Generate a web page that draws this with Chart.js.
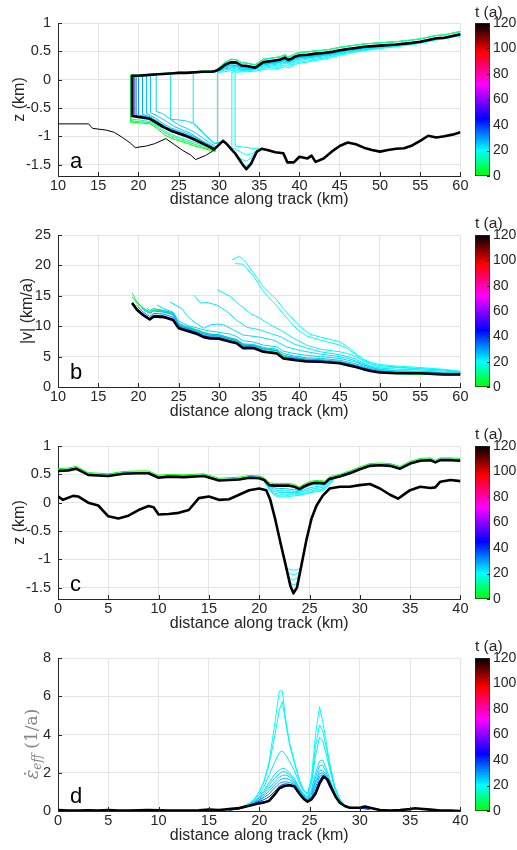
<!DOCTYPE html>
<html><head><meta charset="utf-8">
<script src="https://cdn.jsdelivr.net/npm/chart.js@4/dist/chart.umd.min.js"></script>
<style>
html,body{margin:0;padding:0;background:#fff;}
body{width:517px;height:850px;position:relative;overflow:hidden;}
canvas{position:absolute;}
</style></head><body>
<canvas id="pa" width="470" height="212" style="left:0;top:0"></canvas>
<canvas id="pb" width="470" height="212" style="left:0;top:212px"></canvas>
<canvas id="pc" width="470" height="212" style="left:0;top:424px"></canvas>
<canvas id="pd" width="470" height="214" style="left:0;top:636px"></canvas>
<canvas id="ca" width="57" height="212" style="left:460px;top:0"></canvas>
<canvas id="cb" width="57" height="212" style="left:460px;top:212px"></canvas>
<canvas id="cc" width="57" height="212" style="left:460px;top:424px"></canvas>
<canvas id="cd" width="57" height="214" style="left:460px;top:636px"></canvas>
<script>
// ---------------- tick labels ----------------
const T_TICKS = [0, 20, 40, 60, 80, 100, 120];
const AB_XTICKS = [10, 15, 20, 25, 30, 35, 40, 45, 50, 55, 60];
const CD_XTICKS = [0, 5, 10, 15, 20, 25, 30, 35, 40];
const Z_YTICKS = [-1.5, -1, -0.5, 0, 0.5, 1];
const V_YTICKS = [0, 5, 10, 15, 20, 25];
const E_YTICKS = [0, 2, 4, 6, 8];

// ---------------- panel a ----------------
const aBedX = [10, 13.8, 14.3, 16, 17, 18, 19, 19.6, 21, 22, 23.4, 24.5, 25.5, 26.5, 27.1, 28.3, 29, 29.5, 30.5];
const aBedY = [-0.78, -0.78, -0.86, -0.89, -0.93, -1.02, -1.12, -1.2, -1.17, -1.13, -1.04, -1.15, -1.25, -1.33, -1.41, -1.34, -1.28, -1.23, -1.08];
const aSX = [19, 20, 21, 22, 23, 24, 25, 26, 27, 28, 29, 29.5, 30, 30.7, 31.5, 32.2, 32.8, 33.5, 34.5, 35, 35.5, 36.5, 37.5, 38.2, 38.6, 39, 39.5, 40, 41, 42, 43, 44, 45, 46, 47, 48, 50, 52, 54, 55, 56, 57, 58, 59, 60];
const aS120 = [0.07, 0.08, 0.09, 0.10, 0.11, 0.12, 0.12, 0.13, 0.14, 0.14, 0.15, 0.18, 0.26, 0.31, 0.30, 0.25, 0.24, 0.21, 0.26, 0.31, 0.33, 0.35, 0.39, 0.35, 0.37, 0.41, 0.43, 0.44, 0.46, 0.47, 0.49, 0.52, 0.54, 0.56, 0.58, 0.60, 0.62, 0.65, 0.67, 0.70, 0.73, 0.74, 0.77, 0.80];
const aS0 = [0.08, 0.09, 0.10, 0.11, 0.12, 0.13, 0.13, 0.14, 0.15, 0.15, 0.16, 0.21, 0.30, 0.36, 0.35, 0.30, 0.29, 0.26, 0.31, 0.36, 0.38, 0.40, 0.44, 0.40, 0.42, 0.46, 0.48, 0.49, 0.51, 0.52, 0.54, 0.57, 0.59, 0.61, 0.63, 0.65, 0.67, 0.70, 0.72, 0.75, 0.78, 0.79, 0.82, 0.85];
const aS19 = [0.13, 0.14, 0.14, 0.15, 0.16, 0.18, 0.19, 0.20, 0.23, 0.21, 0.23, 0.27, 0.29, 0.31, 0.34, 0.36, 0.39, 0.43, 0.46, 0.49, 0.51, 0.55, 0.58, 0.62, 0.64, 0.67, 0.70, 0.72, 0.75, 0.77];
const aS20 = [0.15, 0.16, 0.16, 0.17, 0.18, 0.20, 0.22, 0.23, 0.26, 0.24, 0.26, 0.29, 0.31, 0.33, 0.36, 0.38, 0.41, 0.45, 0.47, 0.50, 0.52, 0.56, 0.59, 0.63, 0.65, 0.68, 0.71, 0.72, 0.75, 0.78];
const aS21 = [0.13, 0.14, 0.16, 0.17, 0.17, 0.17, 0.18, 0.20, 0.22, 0.24, 0.26, 0.29, 0.27, 0.28, 0.32, 0.34, 0.36, 0.38, 0.40, 0.43, 0.46, 0.49, 0.51, 0.53, 0.57, 0.60, 0.63, 0.65, 0.68, 0.71, 0.73, 0.76, 0.78];
const aS22 = [0.12, 0.13, 0.13, 0.14, 0.15, 0.17, 0.19, 0.19, 0.18, 0.18, 0.19, 0.22, 0.24, 0.26, 0.28, 0.31, 0.29, 0.30, 0.34, 0.36, 0.38, 0.40, 0.42, 0.44, 0.47, 0.50, 0.52, 0.54, 0.58, 0.60, 0.64, 0.66, 0.69, 0.71, 0.73, 0.76, 0.79];
const aS23 = [0.11, 0.12, 0.12, 0.13, 0.13, 0.14, 0.16, 0.19, 0.21, 0.21, 0.19, 0.19, 0.19, 0.23, 0.26, 0.28, 0.30, 0.33, 0.30, 0.32, 0.36, 0.38, 0.39, 0.41, 0.43, 0.45, 0.48, 0.51, 0.53, 0.55, 0.58, 0.61, 0.64, 0.66, 0.69, 0.72, 0.73, 0.76, 0.79];
const aS24 = [0.10, 0.11, 0.11, 0.12, 0.12, 0.13, 0.13, 0.14, 0.16, 0.20, 0.23, 0.23, 0.21, 0.20, 0.19, 0.23, 0.27, 0.29, 0.31, 0.34, 0.31, 0.33, 0.37, 0.39, 0.40, 0.42, 0.44, 0.46, 0.49, 0.52, 0.54, 0.56, 0.59, 0.61, 0.64, 0.66, 0.69, 0.72, 0.73, 0.76, 0.79];
const aS26 = [0.09, 0.10, 0.11, 0.11, 0.12, 0.12, 0.13, 0.14, 0.14, 0.17, 0.22, 0.26, 0.25, 0.22, 0.21, 0.20, 0.24, 0.28, 0.30, 0.32, 0.36, 0.32, 0.34, 0.38, 0.40, 0.41, 0.43, 0.45, 0.47, 0.50, 0.52, 0.54, 0.56, 0.59, 0.62, 0.64, 0.66, 0.69, 0.72, 0.73, 0.76, 0.79];
const aS30 = [0.08, 0.09, 0.10, 0.11, 0.12, 0.12, 0.13, 0.14, 0.14, 0.15, 0.17, 0.24, 0.29, 0.28, 0.24, 0.23, 0.20, 0.25, 0.30, 0.32, 0.34, 0.38, 0.34, 0.36, 0.40, 0.42, 0.43, 0.45, 0.46, 0.48, 0.51, 0.53, 0.55, 0.57, 0.60, 0.62, 0.65, 0.67, 0.70, 0.73, 0.74, 0.77, 0.80];
const aB0x = [20, 21.5, 22.3, 23.2, 24, 25, 26, 27, 28, 29, 29.6];
const aB0y = [-0.76, -0.78, -0.86, -0.97, -1.03, -1.08, -1.12, -1.17, -1.21, -1.25, -1.27];
const aB8y = [-0.74, -0.76, -0.83, -0.93, -0.99, -1.05, -1.09, -1.14, -1.19, -1.23, -1.25];
const aB14y = [-0.71, -0.74, -0.8, -0.9, -0.96, -1.02, -1.06, -1.11, -1.16, -1.21, -1.24];
const aB19x = [33, 34, 35];
const aB19y = [-1.19, -1.21, -1.22];
const aB20x = [32.5, 33.4, 34.2, 34.8];
const aB20y = [-1.26, -1.33, -1.3, -1.25];
const aB21x = [30.5, 31.2, 32, 32.7, 33.4, 34, 34.6];
const aB21y = [-1.09, -1.16, -1.3, -1.4, -1.44, -1.38, -1.27];
const aB22x = [27.5, 28.5, 29.5, 30.5, 31.2, 32, 32.9, 33.4, 34, 34.6];
const aB22y = [-0.85, -1.0, -1.12, -1.09, -1.16, -1.31, -1.5, -1.53, -1.45, -1.27];
const aB23x = [25, 26, 26.8, 27.5, 28.5, 29.4, 30.2];
const aB23y = [-0.71, -0.73, -0.77, -0.87, -1.01, -1.13, -1.12];
const aB24x = [23, 24, 25, 26, 27, 28, 29, 29.7];
const aB24y = [-0.6, -0.7, -0.8, -0.86, -0.93, -1.03, -1.13, -1.19];
const aB25x = [22.5, 23.5, 24.5, 25.5, 26.5, 27.5, 28.5, 29.5];
const aB25y = [-0.65, -0.74, -0.83, -0.89, -0.95, -1.04, -1.13, -1.2];
const aB26x = [22, 23, 24, 25, 26, 27, 28, 29, 29.5];
const aB26y = [-0.67, -0.77, -0.85, -0.9, -0.95, -1.01, -1.09, -1.16, -1.21];
const aB28x = [21.5, 22.5, 23.5, 24.5, 25.5, 26.5, 27.5, 28.5, 29.4];
const aB28y = [-0.66, -0.75, -0.84, -0.9, -0.95, -1.0, -1.07, -1.15, -1.21];
const aB30x = [21.4, 22, 23, 24, 25, 26, 27, 28, 29, 29.4];
const aB30y = [-0.67, -0.72, -0.81, -0.88, -0.93, -0.98, -1.04, -1.11, -1.18, -1.22];
const aB35y = [-0.68, -0.73, -0.82, -0.89, -0.94, -0.99, -1.05, -1.12, -1.19, -1.22];
const aBlateX = [20, 21.4, 22, 23, 24, 25, 26, 27, 28, 29, 29.4];
const aBlateY = [-0.655, -0.69, -0.74, -0.83, -0.9, -0.95, -1.0, -1.06, -1.13, -1.2, -1.23];
const aB120x = [20, 21.4, 22, 23, 24, 25, 26, 27, 28, 29, 29.4, 30.5, 31, 32, 33, 33.4, 34, 34.7, 35.3, 36, 37, 38, 38.5, 39.3, 40, 41, 41.5, 42, 43, 44, 45, 46, 47, 48, 49, 50, 51, 52, 53, 54, 55, 56, 57, 58, 59, 60];
const aB120y = [-0.66, -0.69, -0.74, -0.83, -0.9, -0.95, -1.0, -1.06, -1.13, -1.2, -1.23, -1.08, -1.14, -1.3, -1.51, -1.58, -1.48, -1.27, -1.22, -1.24, -1.28, -1.3, -1.46, -1.46, -1.36, -1.39, -1.34, -1.45, -1.39, -1.27, -1.17, -1.11, -1.14, -1.2, -1.24, -1.27, -1.24, -1.22, -1.21, -1.16, -1.08, -0.99, -1.02, -1.0, -0.97, -0.93];
const aT     = [0, 8, 14, 19, 20, 21, 22, 23, 24, 25, 26, 28, 30, 35, 45, 65, 95, 120];
const aFront = [19.0, 19.0, 19.1, 32.0, 31.6, 29.8, 26.8, 24.0, 22.2, 21.5, 21.0, 20.5, 20.0, 19.7, 19.45, 19.3, 19.22, 19.2];
const aTop   = [0.08, 0.08, 0.08, 0.12, 0.13, 0.13, 0.12, 0.11, 0.09, 0.085, 0.08, 0.075, 0.07, 0.07, 0.07, 0.07, 0.07, 0.07];
const aBot   = [-0.75, -0.72, -0.7, -1.17, -1.2, -1.12, -0.76, -0.7, -0.56, -0.58, -0.6, -0.61, -0.62, -0.63, -0.64, -0.64, -0.64, -0.64];
const aBX = [aB0x, aB0x, aB0x, aB19x, aB20x, aB21x, aB22x, aB23x, aB24x, aB25x, aB26x, aB28x, aB30x, aB30x, aBlateX, aBlateX, aBlateX, aB120x];
const aBY = [aB0y, aB8y, aB14y, aB19y, aB20y, aB21y, aB22y, aB23y, aB24y, aB25y, aB26y, aB28y, aB30y, aB35y, aBlateY, aBlateY, aBlateY, aB120y];
const aSurf = [aS0, aS0, aS0, aS19, aS20, aS21, aS22, aS23, aS24, aS26, aS26, aS30, aS30, aS120, aS120, aS120, aS120, aS120];

// ---------------- panel b ----------------
const bGX = [19.2, 19.8, 20.6, 21.4, 21.9, 23.1, 24.3, 25, 25.6, 26.4, 27.3, 28.1, 28.9, 30, 31.4, 32.2, 33, 34.3, 35.5, 37.2, 38, 39.3, 40.9, 42.6, 45, 46, 47, 48, 49, 50, 52, 55, 58, 60];
const bV120 = [13.8, 12.7, 11.8, 11.1, 11.6, 11.5, 11.0, 9.65, 9.4, 9.1, 8.7, 8.2, 8.0, 7.95, 7.45, 7.2, 6.4, 6.4, 5.8, 5.5, 4.7, 4.45, 4.2, 4.15, 3.9, 3.6, 3.3, 2.9, 2.6, 2.4, 2.25, 2.25, 2.08, 2.08];
const bV45 = [13.9, 12.9, 12.0, 11.3, 11.8, 11.7, 11.2, 9.8, 9.55, 9.25, 8.85, 8.35, 8.1, 8.05, 7.55, 7.3, 6.5, 6.5, 5.9, 5.6, 4.8, 4.55, 4.3, 4.2, 3.95, 3.65, 3.35, 2.95, 2.65, 2.45, 2.3, 2.28, 2.1, 2.1];
const bV0 = [14.85, 13.8, 12.9, 12.4, 12.7, 12.5, 12.1, 10.3, 10.0, 9.8, 9.4, 9.0, 8.7, 8.6, 8.0, 7.8, 7.0, 6.9, 6.3, 6.0, 5.1, 4.8, 4.5, 4.4, 4.1, 3.8, 3.4, 3.0, 2.7, 2.4, 2.2, 2.1, 1.95, 1.9];
const bV8 = [15.5, 14.0, 13.0, 12.2, 12.6, 12.4, 12.0, 10.1, 9.8, 9.6, 9.2, 8.8, 8.5, 8.4, 7.9, 7.6, 6.9, 6.8, 6.2, 5.9, 5.0, 4.7, 4.4, 4.3, 4.0, 3.7, 3.4, 3.0, 2.7, 2.4, 2.2, 2.1, 2.0, 1.95];
const bV24 = [13.5, 12.9, 12.3, 10.9, 10.4, 10.0, 9.7, 9.4, 9.2, 9.0, 8.7, 8.3, 7.6, 7.4, 6.9, 6.6, 5.9, 5.5, 5.2, 5.0, 4.7, 4.4, 4.1, 3.6, 3.2, 2.9, 2.6, 2.5, 2.35, 2.3];
const bV26 = [13.0, 12.6, 12.9, 12.6, 12.2, 10.5, 10.1, 9.7, 9.3, 8.9, 8.7, 8.6, 8.1, 7.8, 7.1, 7.0, 6.5, 6.2, 5.5, 5.1, 4.8, 4.7, 4.4, 4.1, 3.8, 3.4, 3.0, 2.7, 2.5, 2.4, 2.25, 2.2];
const bV28 = [13.2, 12.7, 12.1, 12.5, 12.3, 11.9, 10.2, 9.9, 9.5, 9.1, 8.7, 8.5, 8.4, 7.9, 7.6, 6.9, 6.8, 6.3, 6.0, 5.2, 4.9, 4.6, 4.5, 4.2, 3.9, 3.6, 3.2, 2.9, 2.6, 2.4, 2.35, 2.2, 2.15];
const bV32 = [13.4, 12.3, 11.6, 12.1, 12.0, 11.5, 10.0, 9.7, 9.4, 9.0, 8.5, 8.3, 8.2, 7.7, 7.4, 6.7, 6.6, 6.0, 5.7, 4.9, 4.7, 4.4, 4.3, 4.05, 3.75, 3.45, 3.05, 2.75, 2.5, 2.35, 2.3, 2.15, 2.12];
const bBandT = [0, 8, 24, 26, 28, 32, 45, 75, 120];
const bBandFront = [19.2, 19.2, 22.3, 21.0, 20.4, 19.8, 19.3, 19.2, 19.2];
const bBandV = [bV0, bV8, bV24, bV26, bV28, bV32, bV45, bV120, bV120];
const bAx = [31.6, 32.2, 32.55, 33.3, 34.3, 35.5, 37.2, 38.0, 38.9, 40.1, 41.3, 42.6, 45, 46, 47, 48, 49, 50, 52, 55, 58, 60];
const bAy = [20.9, 21.3, 21.5, 20.6, 18.7, 16.5, 14.3, 12.9, 11.6, 9.9, 8.7, 8.2, 7.45, 6.6, 5.5, 4.55, 4.0, 3.7, 3.45, 3.2, 2.9, 2.6];
const bBx = [32.0, 33.0, 34.3, 35.5, 37.2, 38.4, 39.7, 40.9, 42.6, 45, 46, 47, 48, 49, 50, 52, 55, 58, 60];
const bBy = [20.3, 20.2, 18.2, 15.7, 13.3, 11.4, 9.5, 8.4, 7.7, 6.9, 6.3, 5.3, 4.4, 3.8, 3.5, 3.3, 3.0, 2.8, 2.5];
const bCx = [29.8, 31.4, 32.6, 33.9, 35.1, 36.4, 37.6, 39.3, 40.9, 42.6, 45, 46, 47, 48, 49, 50, 52, 55, 58, 60];
const bCy = [16.0, 14.9, 13.5, 12.1, 11.3, 10.2, 9.4, 8.0, 6.9, 6.2, 5.8, 5.5, 5.0, 4.2, 3.7, 3.3, 3.2, 3.0, 2.8, 2.5];
const bDx = [26.9, 27.7, 28.5, 29.7, 31.0, 32.2, 33.5, 35.1, 36.4, 37.6, 39.3, 40.9, 42.6, 45, 46, 47, 48, 49, 50, 52, 55, 58, 60];
const bDy = [15.1, 13.8, 13.9, 13.5, 12.4, 11.0, 9.8, 9.4, 8.8, 8.3, 7.1, 6.4, 5.8, 5.3, 5.0, 4.6, 3.9, 3.4, 3.1, 2.95, 2.8, 2.6, 2.4];
const bEx = [23.9, 24.55, 25.4, 26.0, 26.6, 27.5, 28.1, 28.9, 29.7, 30.6, 31.8, 33.0, 35.1, 36.8, 38.4, 40.1, 42.6, 45, 46, 47, 48, 49, 50, 52, 55, 58, 60];
const bEy = [14.0, 13.5, 12.9, 11.8, 11.0, 10.2, 9.65, 10.2, 10.35, 10.2, 9.4, 8.55, 8.2, 7.7, 6.6, 6.0, 5.4, 5.0, 4.7, 4.3, 3.7, 3.2, 2.9, 2.7, 2.6, 2.4, 2.3];
const bExpT = [19, 20, 21, 22, 23];
const bExpX = [bAx, bBx, bCx, bDx, bEx];
const bExpY = [bAy, bBy, bCy, bDy, bEy];

// ---------------- panel c ----------------
const cBedX = [0, 0.5, 1.5, 2, 3, 4, 5, 6, 7, 8, 9, 9.5, 10, 11, 12, 13, 14, 15, 16, 17, 18, 19, 20, 20.7, 21.1, 21.6, 22.1, 22.6, 23.1, 23.4, 23.75, 24.2, 24.7, 25.2, 25.7, 26.3, 27, 28, 29, 30, 31, 32, 33, 33.8, 34.5, 35, 36, 37, 37.5, 38, 39, 40];
const cBedY = [0.11, 0.05, 0.12, 0.11, 0.0, -0.05, -0.24, -0.28, -0.23, -0.13, -0.06, -0.08, -0.21, -0.2, -0.18, -0.13, 0.08, 0.11, 0.05, 0.06, 0.14, 0.22, 0.25, 0.22, 0.05, -0.3, -0.7, -1.08, -1.47, -1.6, -1.5, -1.1, -0.65, -0.28, -0.05, 0.12, 0.25, 0.28, 0.28, 0.31, 0.33, 0.25, 0.14, 0.07, 0.16, 0.22, 0.28, 0.26, 0.27, 0.37, 0.4, 0.38];
const cSX = [0, 1, 1.8, 3, 4, 5, 6.5, 8, 9, 10, 11, 12.5, 14.5, 16, 17, 18, 19, 20, 20.5, 21, 21.5, 22, 22.5, 23, 23.5, 24, 24.5, 25, 25.5, 26, 26.5, 27, 27.5, 28, 29, 30, 31, 32, 33, 34, 35, 36, 37, 37.5, 38, 39, 40];
const cS120 = [0.56, 0.57, 0.60, 0.49, 0.48, 0.47, 0.51, 0.52, 0.52, 0.44, 0.46, 0.45, 0.47, 0.39, 0.40, 0.41, 0.44, 0.43, 0.40, 0.31, 0.30, 0.30, 0.30, 0.30, 0.28, 0.24, 0.29, 0.33, 0.35, 0.35, 0.34, 0.42, 0.44, 0.46, 0.52, 0.59, 0.65, 0.66, 0.65, 0.60, 0.69, 0.74, 0.75, 0.71, 0.75, 0.75, 0.74];
const cS0 = [0.60, 0.61, 0.64, 0.53, 0.52, 0.51, 0.55, 0.56, 0.56, 0.48, 0.50, 0.49, 0.51, 0.43, 0.44, 0.45, 0.48, 0.47, 0.44, 0.35, 0.34, 0.34, 0.34, 0.34, 0.32, 0.28, 0.33, 0.37, 0.39, 0.39, 0.38, 0.46, 0.48, 0.50, 0.56, 0.63, 0.69, 0.70, 0.69, 0.64, 0.73, 0.78, 0.79, 0.75, 0.79, 0.79, 0.78];
const cS20 = [0.58, 0.59, 0.62, 0.51, 0.50, 0.49, 0.53, 0.54, 0.54, 0.46, 0.48, 0.47, 0.49, 0.41, 0.42, 0.43, 0.46, 0.45, 0.38, 0.24, 0.15, 0.12, 0.12, 0.13, 0.14, 0.14, 0.16, 0.18, 0.20, 0.21, 0.24, 0.33, 0.44, 0.48, 0.54, 0.61, 0.67, 0.68, 0.67, 0.62, 0.71, 0.76, 0.77, 0.73, 0.77, 0.77, 0.76];
const cDipX = [19, 20, 20.5, 21, 21.5, 22, 22.5, 23, 23.5, 24, 24.5, 25, 25.5, 26, 26.5, 27, 27.5, 28, 29];
const cDip19 = [0.46, 0.45, 0.38, 0.22, 0.13, 0.10, 0.10, 0.11, 0.12, 0.13, 0.15, 0.17, 0.19, 0.20, 0.23, 0.32, 0.43, 0.48, 0.54];
const cDip21 = [0.46, 0.45, 0.39, 0.25, 0.17, 0.15, 0.15, 0.15, 0.16, 0.16, 0.18, 0.20, 0.22, 0.23, 0.26, 0.35, 0.45, 0.48, 0.54];
const cDip22 = [0.46, 0.45, 0.40, 0.27, 0.20, 0.18, 0.18, 0.18, 0.18, 0.18, 0.21, 0.23, 0.25, 0.26, 0.28, 0.37, 0.46, 0.48, 0.54];
const cDip23 = [0.46, 0.45, 0.41, 0.29, 0.23, 0.21, 0.21, 0.21, 0.20, 0.20, 0.23, 0.26, 0.28, 0.29, 0.30, 0.39, 0.46, 0.48, 0.54];
const cDip26 = [0.46, 0.45, 0.41, 0.30, 0.26, 0.25, 0.25, 0.24, 0.23, 0.21, 0.26, 0.30, 0.32, 0.32, 0.32, 0.41, 0.46, 0.48, 0.54];
const cDipT = [19, 21, 22, 23, 26];
const cDipV = [cDip19, cDip21, cDip22, cDip23, cDip26];
const cU19x = [22.1, 22.7, 23.0, 23.4, 23.8, 24.15, 24.7];
const cU19y = [-0.7, -1.15, -1.18, -1.19, -1.18, -1.15, -0.65];
const cU20x = [22.1, 22.78, 23.0, 23.4, 23.8, 24.1, 24.7];
const cU20y = [-0.7, -1.22, -1.25, -1.27, -1.25, -1.2, -0.65];
const cU21x = [22.1, 22.88, 23.1, 23.4, 23.75, 24.05, 24.7];
const cU21y = [-0.7, -1.3, -1.34, -1.36, -1.33, -1.26, -0.65];
const cU22x = [22.1, 23.0, 23.2, 23.4, 23.7, 23.95, 24.7];
const cU22y = [-0.7, -1.39, -1.43, -1.45, -1.43, -1.35, -0.65];
const cU23x = [22.1, 23.1, 23.25, 23.4, 23.6, 23.8, 24.7];
const cU23y = [-0.7, -1.47, -1.52, -1.55, -1.53, -1.46, -0.65];
const cUT = [19, 20, 21, 22, 23];
const cUX = [cU19x, cU20x, cU21x, cU22x, cU23x];
const cUY = [cU19y, cU20y, cU21y, cU22y, cU23y];

// ---------------- panel d ----------------
const dBX = [0, 1, 2, 3, 4, 5, 6, 7, 8, 9, 10, 11, 12, 13, 14, 15, 16, 17, 18, 19, 20, 20.5, 21, 21.5, 22, 22.5, 23, 23.5, 24, 24.5, 24.8, 25.2, 25.6, 26, 26.4, 26.8, 27.2, 27.6, 28, 28.5, 29, 30, 30.5, 31, 32, 33, 34, 35, 35.5, 36, 37, 38, 39, 40];
const dBY = [0.05, 0.03, 0.02, 0.04, 0.03, 0.05, 0.03, 0.02, 0.04, 0.05, 0.04, 0.03, 0.02, 0.03, 0.04, 0.07, 0.05, 0.1, 0.15, 0.28, 0.4, 0.45, 0.54, 0.84, 1.19, 1.31, 1.35, 1.28, 0.9, 0.6, 0.49, 0.61, 0.92, 1.45, 1.8, 1.65, 1.19, 0.75, 0.44, 0.26, 0.17, 0.17, 0.23, 0.17, 0.05, 0.02, 0.05, 0.1, 0.14, 0.12, 0.07, 0.03, 0.02, 0.0];
const dGX = [17, 18, 19, 19.5, 20, 20.5, 21, 21.5, 22, 22.3, 22.6, 23, 23.5, 24, 24.4, 24.8, 25.2, 25.6, 26, 26.3, 26.6, 27, 27.5, 28, 28.5, 29, 30, 31];
const dV20 = [0.05, 0.15, 0.4, 0.6, 1.0, 1.6, 2.6, 4.4, 6.28, 6.28, 4.9, 3.6, 2.6, 1.6, 1.1, 0.92, 1.8, 4.0, 5.46, 4.7, 3.8, 2.5, 1.3, 0.65, 0.3, 0.2, 0.15, 0.1];
const dV21 = [0.05, 0.15, 0.4, 0.6, 1.0, 1.55, 2.5, 3.8, 5.3, 5.72, 4.7, 3.5, 2.5, 1.6, 1.1, 0.9, 1.6, 3.4, 4.5, 4.2, 3.5, 2.4, 1.25, 0.62, 0.3, 0.2, 0.15, 0.1];
const dV22 = [0.05, 0.12, 0.35, 0.55, 0.85, 1.3, 1.9, 2.5, 3.05, 3.14, 2.95, 2.6, 2.1, 1.45, 1.05, 0.85, 1.4, 2.9, 3.86, 3.7, 3.1, 2.2, 1.15, 0.58, 0.28, 0.18, 0.15, 0.1];
const dV23 = [0.05, 0.12, 0.32, 0.5, 0.75, 1.1, 1.5, 1.9, 2.15, 2.23, 2.2, 2.0, 1.7, 1.2, 0.9, 0.75, 1.1, 2.0, 2.6, 2.67, 2.3, 1.7, 0.95, 0.5, 0.26, 0.18, 0.15, 0.1];
const dV24 = [0.05, 0.12, 0.3, 0.48, 0.7, 1.0, 1.35, 1.7, 1.95, 2.06, 2.05, 1.9, 1.6, 1.15, 0.85, 0.7, 1.0, 1.8, 2.35, 2.41, 2.1, 1.55, 0.9, 0.48, 0.25, 0.17, 0.15, 0.1];
const dV25 = [0.05, 0.12, 0.3, 0.45, 0.65, 0.9, 1.2, 1.5, 1.78, 1.86, 1.88, 1.8, 1.5, 1.1, 0.8, 0.65, 0.9, 1.6, 2.1, 2.15, 1.95, 1.45, 0.85, 0.46, 0.25, 0.17, 0.15, 0.1];
const dV27 = [0.05, 0.12, 0.3, 0.42, 0.6, 0.8, 1.05, 1.35, 1.6, 1.68, 1.71, 1.65, 1.45, 1.05, 0.75, 0.6, 0.85, 1.45, 1.95, 2.0, 1.85, 1.38, 0.82, 0.45, 0.25, 0.17, 0.15, 0.1];
const dV30 = [0.05, 0.12, 0.29, 0.4, 0.55, 0.72, 0.9, 1.2, 1.45, 1.5, 1.53, 1.5, 1.38, 0.98, 0.7, 0.56, 0.75, 1.25, 1.8, 1.92, 1.78, 1.3, 0.8, 0.45, 0.25, 0.17, 0.15, 0.1];
const dV40 = [0.05, 0.12, 0.28, 0.38, 0.5, 0.6, 0.75, 1.0, 1.3, 1.38, 1.42, 1.4, 1.32, 0.92, 0.66, 0.52, 0.68, 1.05, 1.6, 1.85, 1.72, 1.25, 0.78, 0.44, 0.25, 0.17, 0.15, 0.1];
const dT = [20, 21, 22, 23, 24, 25, 27, 30, 40];
const dV = [dV20, dV21, dV22, dV23, dV24, dV25, dV27, dV30, dV40];

// ---------------- helpers ----------------
const INK = '#262626';
Chart.defaults.font.family = '"Liberation Sans", Arial, Helvetica, sans-serif';
Chart.defaults.color = INK;
const STOPS = [[0, [0, 255, 0]], [20, [0, 255, 255]], [45, [0, 0, 255]], [72, [255, 0, 255]], [97, [255, 0, 0]], [120, [0, 0, 0]]];
function cmap(t) {
  for (let i = 0; i < STOPS.length - 1; i++) {
    const [t0, c0] = STOPS[i], [t1, c1] = STOPS[i + 1];
    if (t <= t1) { const f = (t - t0) / (t1 - t0); return 'rgb(' + c0.map((c, k) => Math.round(c + (c1[k] - c) * f)).join(',') + ')'; }
  }
  return 'rgb(0,0,0)';
}
function ds(pts, t, w, ord) {
  return { data: pts, borderColor: cmap(t), backgroundColor: cmap(t), borderWidth: w || (t >= 120 ? 2.6 : 1), showLine: true, pointRadius: 0, order: ord !== undefined ? ord : -t, borderJoinStyle: 'round', tension: 0, fill: false };
}
const zip = (xs, ys) => xs.map((x, i) => ({ x, y: ys[i] }));
function onGrid(grid, vals) { const g = grid.slice(grid.length - vals.length); return g.map((x, i) => ({ x, y: vals[i] })); }

const panelPlugin = {
  id: 'panelDeco',
  afterDatasetsDraw(chart) {
    const { ctx, chartArea: a, scales: { x, y } } = chart;
    const o = chart.options.deco;
    ctx.save();
    ctx.strokeStyle = INK; ctx.lineWidth = 1; ctx.beginPath();
    x.ticks.forEach(t => { const p = Math.round(x.getPixelForValue(t.value)) + 0.5; ctx.moveTo(p, a.bottom); ctx.lineTo(p, a.bottom - 4); });
    y.ticks.forEach(t => { const p = Math.round(y.getPixelForValue(t.value)) + 0.5; ctx.moveTo(a.left, p); ctx.lineTo(a.left + 4, p); });
    ctx.stroke();
    ctx.fillStyle = '#000'; ctx.font = '22px "Liberation Sans", Arial, sans-serif'; ctx.textBaseline = 'alphabetic'; ctx.textAlign = 'left';
    ctx.fillText(o.letter, a.left + 12, a.bottom - 8);
    if (o.epsTitle) {
      ctx.translate(o.epsX, o.epsY);
      ctx.rotate(-Math.PI / 2);
      ctx.fillStyle = '#858585'; ctx.textBaseline = 'middle';
      const f1 = 'italic 18px "DejaVu Serif", "Liberation Serif", serif';
      const f2 = 'italic 12px "DejaVu Serif", "Liberation Serif", serif';
      const f3 = '17px "DejaVu Serif", "Liberation Serif", serif';
      const parts = [['\u03B5\u0307', f1, 0], ['eff', f2, 5], [' (1/a)', f3, 0]];
      let w = 0; parts.forEach(p => { ctx.font = p[1]; w += ctx.measureText(p[0]).width; });
      let cx = -w / 2;
      parts.forEach(p => { ctx.font = p[1]; ctx.fillText(p[0], cx, p[2]); cx += ctx.measureText(p[0]).width; });
    }
    ctx.restore();
  }
};

function mainChart(id, o) {
  return new Chart(document.getElementById(id), {
    type: 'scatter',
    data: { datasets: o.datasets },
    options: {
      responsive: false, animation: false, events: [],
      layout: { padding: { top: o.padTop, right: 9.5, left: 0, bottom: 0 } },
      deco: { letter: o.letter, epsTitle: o.epsTitle, epsX: 33, epsY: 108 },
      plugins: { legend: { display: false }, tooltip: { enabled: false } },
      scales: {
        x: {
          type: 'linear', min: o.xmin, max: o.xmax,
          afterBuildTicks: s => { s.ticks = o.xticks.map(v => ({ value: v })); },
          afterFit: s => { s.height = o.xH; },
          grid: { color: '#e4e4e4', drawTicks: false },
          border: { color: INK },
          ticks: { padding: 1.5, font: { size: 14.5 }, color: INK, maxRotation: 0, autoSkip: false, callback: v => String(v) },
          title: { display: true, text: 'distance along track (km)', font: { size: 16 }, color: INK, padding: { top: 0, bottom: o.tpb } }
        },
        y: {
          type: 'linear', min: o.ymin, max: o.ymax,
          afterBuildTicks: s => { s.ticks = o.yticks.map(v => ({ value: v })); },
          afterFit: s => { s.width = 58; },
          grid: { color: '#e4e4e4', drawTicks: false },
          border: { color: INK },
          ticks: { padding: 7, font: { size: 14.5 }, color: INK, autoSkip: false, callback: v => String(v) },
          title: { display: !!o.ytitle, text: o.ytitle || '', font: { size: 16 }, color: INK, padding: { top: o.ytpt || 10, bottom: 0 } }
        }
      }
    },
    plugins: [panelPlugin]
  });
}

const cbPlugin = {
  id: 'cbTicks',
  afterDatasetsDraw(chart) {
    const { ctx, chartArea: a, scales: { y } } = chart;
    ctx.save(); ctx.strokeStyle = INK; ctx.lineWidth = 1; ctx.beginPath();
    y.ticks.forEach(t => { const p = Math.round(y.getPixelForValue(t.value)) + 0.5; ctx.moveTo(a.right, p); ctx.lineTo(a.right - 3, p); });
    ctx.stroke(); ctx.restore();
  }
};
function colorbar(id, o) {
  return new Chart(document.getElementById(id), {
    type: 'bar',
    data: { labels: [''], datasets: [{
      data: [[T_TICKS[0], T_TICKS[T_TICKS.length - 1]]],
      backgroundColor: c => {
        const ch = c.chart, a = ch.chartArea; if (!a) return '#0f0';
        const g = ch.ctx.createLinearGradient(0, a.bottom, 0, a.top);
        STOPS.forEach(s => g.addColorStop(s[0] / 120, 'rgb(' + s[1].join(',') + ')'));
        return g;
      },
      borderColor: INK, borderWidth: 1, borderSkipped: false, barPercentage: 1, categoryPercentage: 1
    }] },
    options: {
      responsive: false, animation: false, events: [],
      layout: { padding: { left: 15, right: 0, top: 0, bottom: o.pb } },
      plugins: { legend: { display: false }, tooltip: { enabled: false },
        title: { display: true, text: 't (a)', align: 'start', font: { size: 15.5, weight: 'normal' }, color: INK, padding: { top: o.tpt, bottom: o.tpb } } },
      scales: {
        x: { display: false },
        y: { position: 'right', min: 0, max: 120,
          afterBuildTicks: s => { s.ticks = T_TICKS.map(v => ({ value: v })); },
          afterFit: s => { s.width = 27; },
          grid: { display: false, drawTicks: false }, border: { display: false },
          ticks: { padding: 3, font: { size: 14 }, color: INK } }
      }
    },
    plugins: [cbPlugin]
  });
}

// ---------------- build datasets ----------------
const dsA = [];
aT.forEach((t, i) => {
  const pts = [];
  const bx = aBX[i], by = aBY[i];
  for (let k = bx.length - 1; k >= 0; k--) pts.push({ x: bx[k], y: by[k] });
  pts.push({ x: aFront[i], y: aBot[i] });
  pts.push({ x: aFront[i], y: aTop[i] });
  dsA.push(ds(pts.concat(onGrid(aSX, aSurf[i])), t));
});
dsA.push(ds(zip(aBedX, aBedY), 120, 1, -119));

const dsB = [];
bBandT.forEach((t, i) => {
  const v = bBandV[i];
  dsB.push(ds([{ x: bBandFront[i], y: v[0] }].concat(onGrid(bGX, v.slice(1))), t));
});
bExpT.forEach((t, i) => dsB.push(ds(zip(bExpX[i], bExpY[i]), t)));

const dsC = [];
dsC.push(ds(zip(cBedX, cBedY), 120));
dsC.push(ds(onGrid(cSX, cS120), 120));
dsC.push(ds(onGrid(cSX, cS0), 0));
dsC.push(ds(onGrid(cSX, cS20), 20));
cDipT.forEach((t, i) => dsC.push(ds(onGrid(cDipX, cDipV[i]), t)));
cUT.forEach((t, i) => dsC.push(ds(zip(cUX[i], cUY[i]), t)));

const dsD = [];
dsD.push(ds(zip(dBX, dBY), 120));
dT.forEach((t, i) => dsD.push(ds(onGrid(dGX, dV[i]), t)));

// ---------------- charts ----------------
mainChart('pa', { datasets: dsA, padTop: 23, xH: 36, tpb: 2.4, xmin: 10, xmax: 60, xticks: AB_XTICKS, ymin: -1.7, ymax: 1, yticks: Z_YTICKS, ytitle: 'z (km)', ytpt: 10, letter: 'a' });
mainChart('pb', { datasets: dsB, padTop: 23, xH: 37, tpb: 2.4, xmin: 10, xmax: 60, xticks: AB_XTICKS, ymin: 0, ymax: 25, yticks: V_YTICKS, ytitle: '|v| (km/a)', ytpt: 17.5, letter: 'b' });
mainChart('pc', { datasets: dsC, padTop: 22, xH: 37, tpb: 2.4, xmin: 0, xmax: 40, xticks: CD_XTICKS, ymin: -1.7, ymax: 1, yticks: Z_YTICKS, ytitle: 'z (km)', ytpt: 10, letter: 'c' });
mainChart('pd', { datasets: dsD, padTop: 22, xH: 39, tpb: 4.9, xmin: 0, xmax: 40, xticks: CD_XTICKS, ymin: 0, ymax: 8, yticks: E_YTICKS, ytitle: '', letter: 'd', epsTitle: true });

colorbar('ca', { pb: 36, tpt: 3.4, tpb: 1.0 });
colorbar('cb', { pb: 37, tpt: 2.4, tpb: 2.0 });
colorbar('cc', { pb: 37, tpt: 1.4, tpb: 2.0 });
colorbar('cd', { pb: 39, tpt: 1.4, tpb: 2.0 });
</script>
</body></html>
